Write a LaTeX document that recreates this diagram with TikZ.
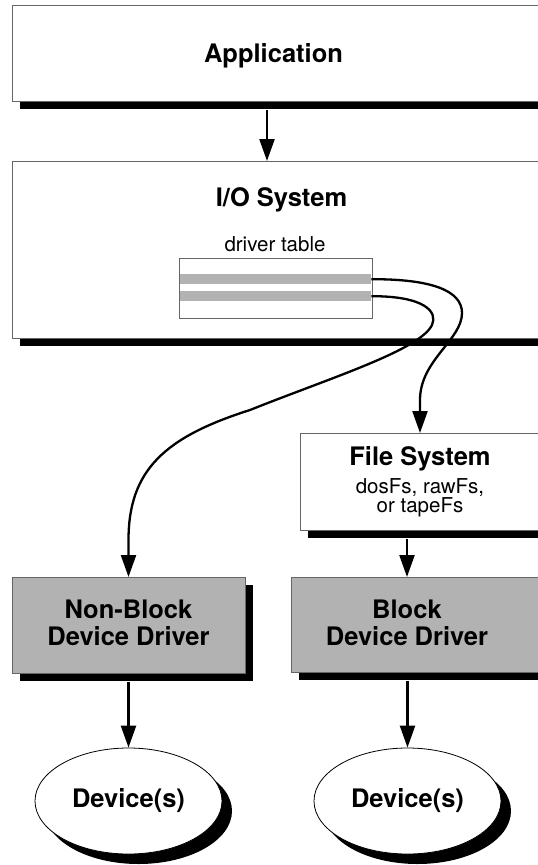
\documentclass[tikz,border=0pt]{standalone}
\usepackage{fontspec}
\setmainfont{TeX Gyre Heros}
\usetikzlibrary{arrows.meta, shapes.geometric, shadows}

\tikzset{
  layer/.style={draw=black!60, line width=0.9pt, fill=white, anchor=north west, inner sep=0pt,
    drop shadow={shadow xshift=8pt, shadow yshift=-8pt, fill=black, opacity=1}},
  driver/.style={layer, fill=black!30},
  tablebox/.style={draw=black!60, line width=0.8pt, fill=white, anchor=north west, inner sep=0pt},
  slot/.style={fill=black!30, anchor=north west, inner sep=0pt, minimum width=191pt, minimum height=10pt},
  device/.style={ellipse, draw=black, line width=0.8pt, fill=white, inner sep=0pt,
    minimum width=187pt, minimum height=106pt, font=\fontsize{25.5}{27.5}\selectfont\bfseries,
    drop shadow={shadow xshift=10pt, shadow yshift=-10pt, fill=black, opacity=1}},
  title/.style={font=\fontsize{25.5}{27}\selectfont\bfseries, align=center, inner sep=0pt},
  note/.style={font=\fontsize{20.5}{19}\selectfont, align=center, inner sep=0pt},
  link/.style={line width=2.3pt, -{Triangle[length=22pt, width=15pt]}},
}

\begin{document}
\begin{tikzpicture}[x=1pt, y=-1pt]
  \useasboundingbox (0,0) rectangle (538,865);
  \clip (0,0) rectangle (538,865);

  % layers
  \node[layer, minimum width=560pt, minimum height=96pt] (appbox) at (11.7,5) {};
  \node[layer, minimum width=560pt, minimum height=177pt] (iobox) at (11.7,161) {};
  \node[layer, minimum width=300pt, minimum height=97pt] (fsbox) at (300,433) {};
  \node[driver, minimum width=233.3pt, minimum height=96pt] (nbbox) at (11.7,577) {};
  \node[driver, minimum width=300pt, minimum height=95pt] (bbox) at (291,577) {};

  % driver table
  \node[tablebox, minimum width=192.4pt, minimum height=59.4pt] (dtab) at (179.3,258.3) {};
  \node[slot] (slota) at (180,274) {};
  \node[slot] (slotb) at (180,291) {};

  % texts
  \node[title, anchor=base] (app) at (273.5,62) {Application};
  \node[title, anchor=base] (io) at (281.5,206.7) {I/O System};
  \node[note, anchor=base] (tabname) at (275,251.7) {driver table};
  \node[title, anchor=base] (fs) at (420,465) {File System};
  \node[note, anchor=north] (fsnote) at (420,478) {dosFs, rawFs,\\or tapeFs};
  \node[title] (nb) at (128.5,623) {Non-Block\\Device Driver};
  \node[title] (blk) at (407,623) {Block\\Device Driver};

  \node[device] (deva) at (128.5,801) {Device(s)};
  \node[device] (devb) at (407.5,801) {Device(s)};

  % connectors
  \coordinate (appout) at (267,110);
  \draw[link] (appout) -- (appout |- iobox.north);
  \draw[link] (slota.east) .. controls (430,279) and (462,290) .. (462,313)
    .. controls (462,340) and (420,360) .. (420,400) -- (fs |- fsbox.north);
  \draw[link] (slotb.east) .. controls (425,296) and (438,312) .. (432,325)
    .. controls (420,350) and (330,378) .. (250,410)
    .. controls (165,437) and (128.5,470) .. (128.5,540) -- (nb |- nbbox.north);
  \draw[link] ([yshift=-8pt]fsbox.south -| blk) -- (blk |- bbox.north);
  \draw[link] ([yshift=-8pt]nbbox.south -| deva) -- (deva.north);
  \draw[link] ([yshift=-8pt]bbox.south -| devb) -- (devb.north);
\end{tikzpicture}
\end{document}
